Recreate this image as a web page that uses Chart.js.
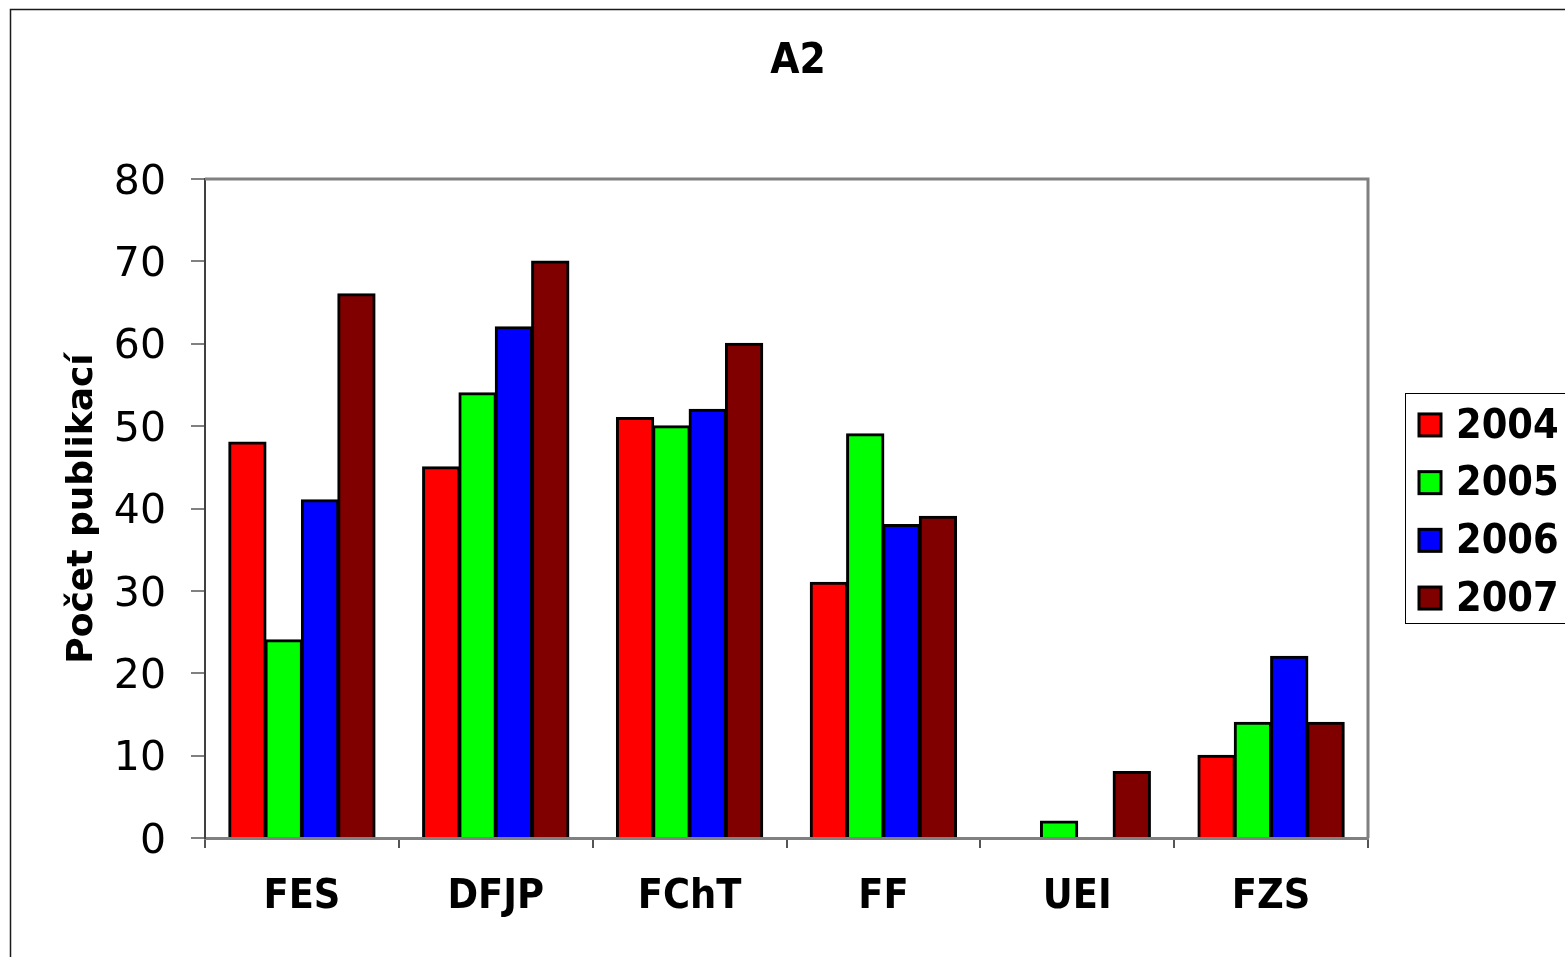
<!DOCTYPE html>
<html>
<head>
<meta charset="utf-8">
<script src="https://cdn.jsdelivr.net/npm/chart.js@4/dist/chart.umd.min.js"></script>
<style>
    html, body { margin: 0; padding: 0; background: #fff; overflow: hidden; }
    #myChart { display: block; }
</style>
</head>
<body>
<canvas id="myChart" width="1565" height="957"></canvas>
<script>
    var chartTitle = 'A2';
    var yAxisTitle = 'Počet publikací';
    var categories = ['FES', 'DFJP', 'FChT', 'FF', 'UEI', 'FZS'];
    var seriesNames = ['2004', '2005', '2006', '2007'];
    var values2004 = [48, 45, 51, 31, 0, 10];
    var values2005 = [24, 54, 50, 49, 2, 14];
    var values2006 = [41, 62, 52, 38, 0, 22];
    var values2007 = [66, 70, 60, 39, 8, 14];
    var seriesColors = ['#FF0000', '#00FF00', '#0000FF', '#800000'];
    var yMin = 0;
    var yMax = 80;
    var yStep = 10;

    var fontFamily = "'DejaVu Sans Condensed', 'DejaVu Sans', sans-serif";
    var wideFamily = "'DejaVu Sans', sans-serif";
    var allValues = [values2004, values2005, values2006, values2007];

    var datasets = [];
    for (var i = 0; i < seriesNames.length; i++) {
        datasets.push({
            label: seriesNames[i],
            data: allValues[i],
            backgroundColor: seriesColors[i],
            borderColor: '#000000',
            borderWidth: 3,
            borderSkipped: 'start',
            inflateAmount: 1,
            categoryPercentage: 0.75,
            barPercentage: 1.0
        });
    }

    // frame, title, plot border and the legend box
    var decorPlugin = {
        id: 'decor',
        afterDraw: function (chart) {
            var ctx = chart.ctx;
            var area = chart.chartArea;
            ctx.save();

            // outer frame (runs off the right and bottom edge)
            ctx.strokeStyle = '#1a1a1a';
            ctx.lineWidth = 1.5;
            ctx.strokeRect(10.5, 9.5, chart.width + 40, chart.height + 40);

            // plot area top + right border
            ctx.strokeStyle = '#808080';
            ctx.lineWidth = 3;
            ctx.beginPath();
            ctx.moveTo(area.left, area.top);
            ctx.lineTo(area.right, area.top);
            ctx.lineTo(area.right, area.bottom);
            ctx.stroke();

            // title
            ctx.fillStyle = '#000';
            ctx.font = 'bold 42px ' + fontFamily;
            ctx.textAlign = 'center';
            ctx.textBaseline = 'middle';
            ctx.fillText(chartTitle, 798, 62);

            // legend
            var boxLeft = area.right + 37;
            var midY = (area.top + area.bottom) / 2 - 1;
            var rowH = 57.7;
            var boxH = 230;
            ctx.fillStyle = '#fff';
            ctx.fillRect(boxLeft, midY - boxH / 2, 400, boxH);
            ctx.strokeStyle = '#000';
            ctx.lineWidth = 1;
            ctx.strokeRect(boxLeft + 0.5, Math.round(midY - boxH / 2) + 0.5, 400, boxH);
            ctx.textAlign = 'left';
            for (var k = 0; k < seriesNames.length; k++) {
                var cy = midY + (k - (seriesNames.length - 1) / 2) * rowH + 4;
                ctx.fillStyle = seriesColors[k];
                ctx.fillRect(boxLeft + 14, cy - 11, 22, 22);
                ctx.strokeStyle = '#000';
                ctx.lineWidth = 3;
                ctx.strokeRect(boxLeft + 14, cy - 11, 22, 22);
                ctx.fillStyle = '#000';
                ctx.font = 'bold 41px ' + fontFamily;
                ctx.fillText(seriesNames[k], boxLeft + 51, cy + 2);
            }
            ctx.restore();
        }
    };

    var ctx = document.getElementById('myChart').getContext('2d');
    var myChart = new Chart(ctx, {
        type: 'bar',
        data: {
            labels: categories,
            datasets: datasets
        },
        options: {
            responsive: false,
            devicePixelRatio: 1,
            animation: false,
            layout: {
                padding: { left: 10, top: 179, right: 197, bottom: 0 }
            },
            plugins: {
                legend: { display: false },
                title: { display: false },
                tooltip: { enabled: false }
            },
            scales: {
                x: {
                    grid: {
                        drawOnChartArea: false,
                        offset: true,
                        tickLength: 10,
                        color: '#555555',
                        lineWidth: 2
                    },
                    border: { color: '#808080', width: 3 },
                    ticks: {
                        color: '#000',
                        padding: 25,
                        maxRotation: 0,
                        font: { family: fontFamily, size: 41, weight: 'bold' }
                    },
                    afterFit: function (scale) {
                        scale.height = 119;
                    }
                },
                y: {
                    min: yMin,
                    max: yMax,
                    ticks: {
                        stepSize: yStep,
                        color: '#000',
                        padding: 25,
                        labelOffset: 4,
                        font: { family: wideFamily, size: 41 }
                    },
                    grid: {
                        drawOnChartArea: false,
                        tickLength: 14,
                        color: '#808080',
                        lineWidth: 2
                    },
                    border: { color: '#404040', width: 2 },
                    title: {
                        display: true,
                        text: yAxisTitle,
                        color: '#000',
                        padding: { top: 51, bottom: 0 },
                        font: { family: wideFamily, size: 36, weight: 'bold' }
                    },
                    afterFit: function (scale) {
                        scale.width = 195;
                    }
                }
            }
        },
        plugins: [decorPlugin]
    });
</script>
</body>
</html>
